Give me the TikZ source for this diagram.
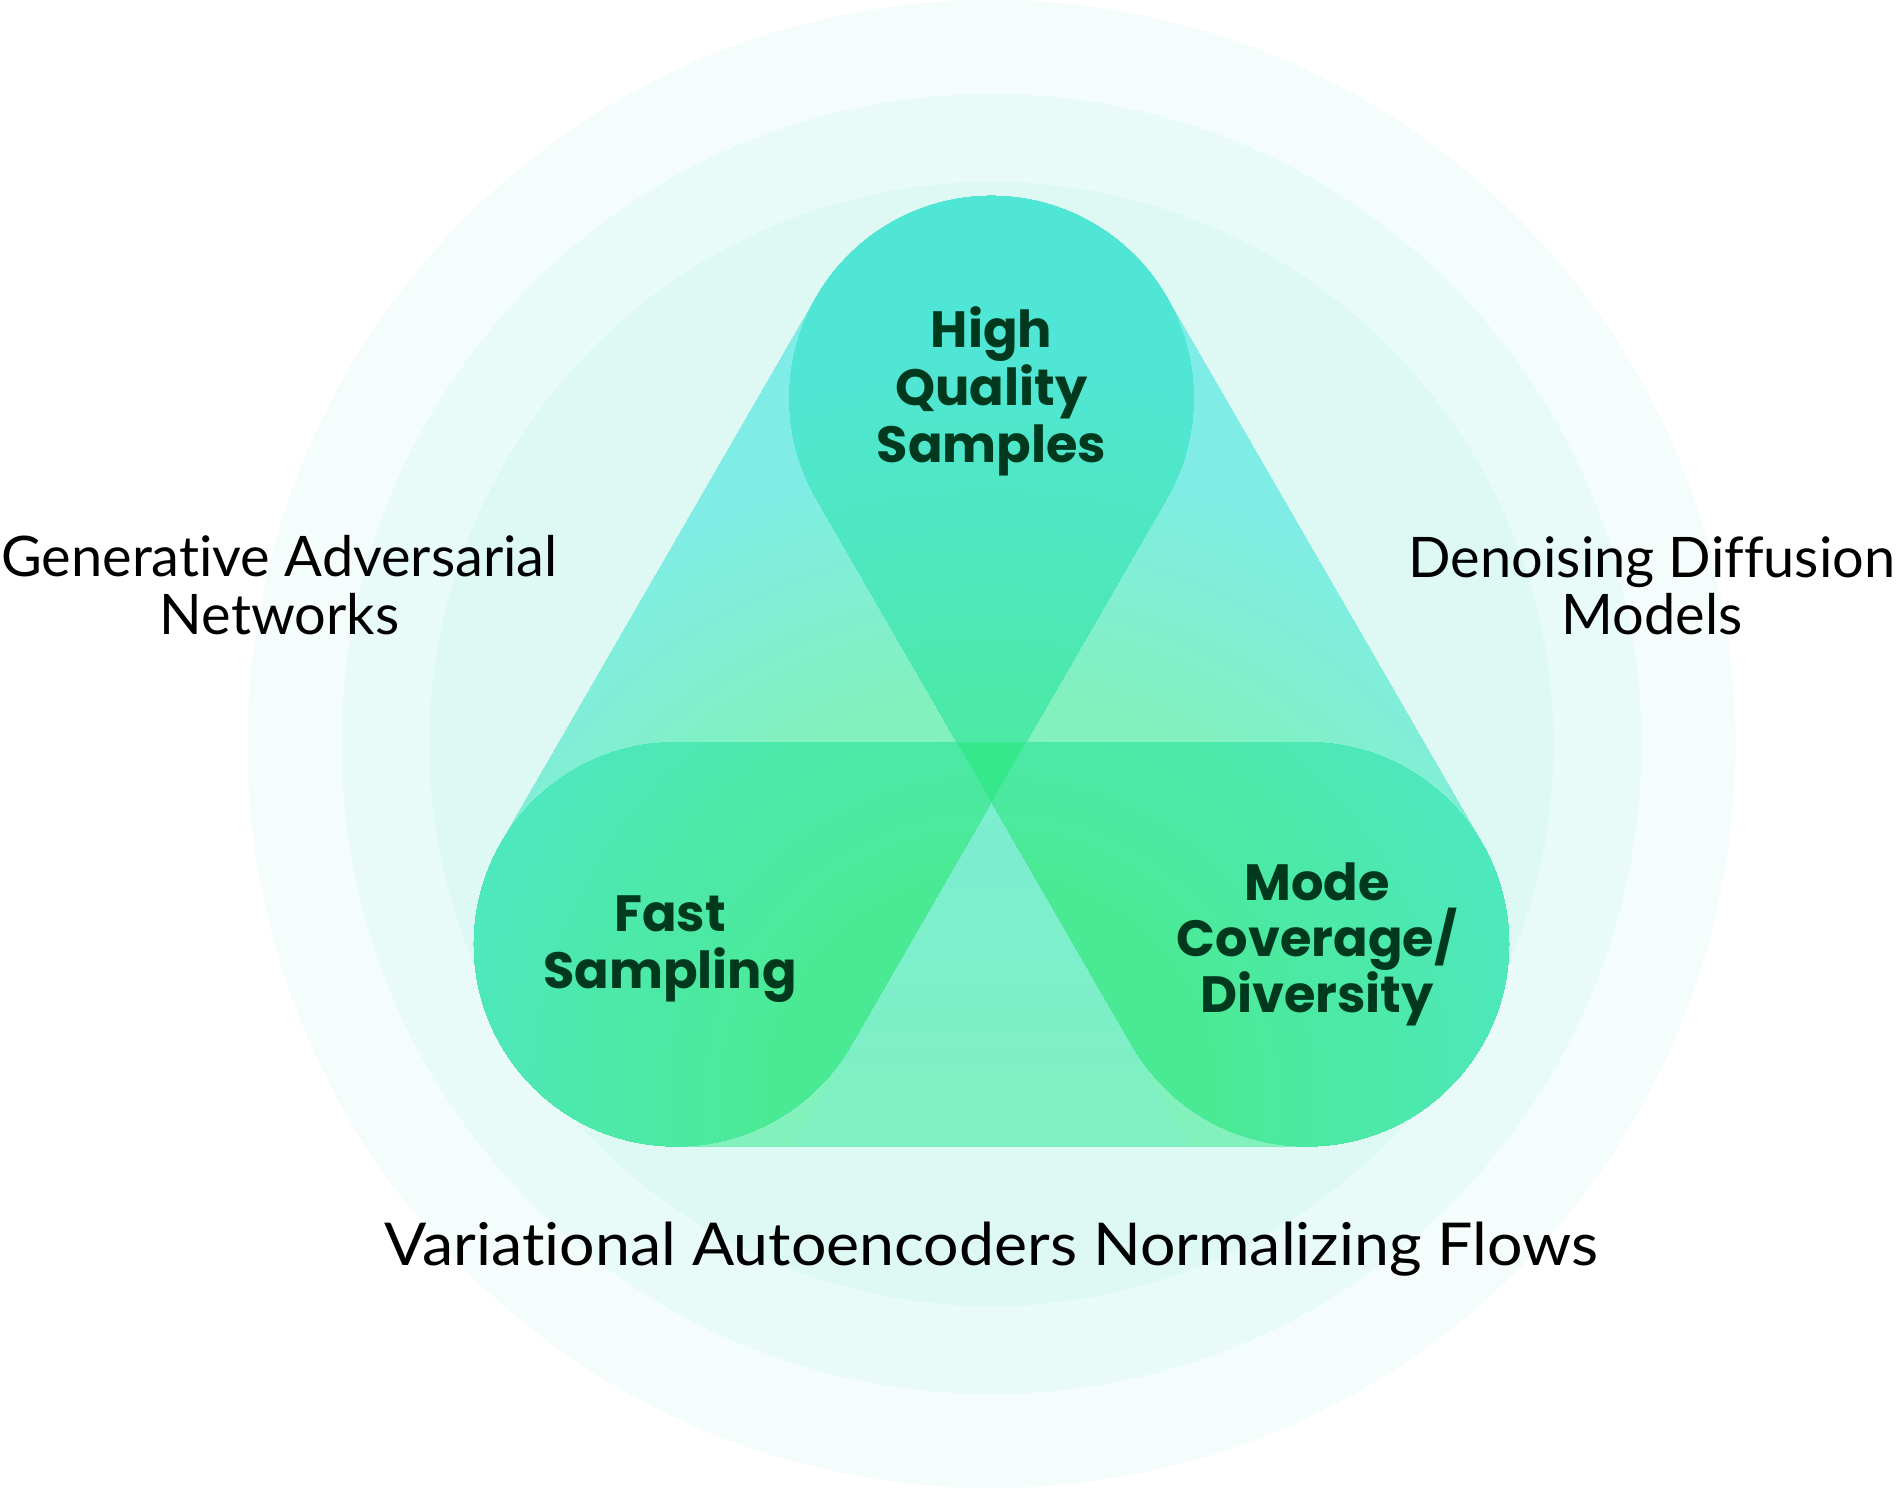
\documentclass[tikz,border=0pt]{standalone}
\usepackage{fontspec}
\setmainfont{Lato}[Ligatures=NoCommon]
\newfontfamily\labelfont{Poppins}
\usetikzlibrary{calc}

% palette
\definecolor{ringA}{HTML}{F5FDFC}
\definecolor{ringB}{HTML}{E8FBF8}
\definecolor{ringC}{HTML}{DEF9F3}
\definecolor{hullCyan}{HTML}{7FEDE6}
\definecolor{hullGreen}{HTML}{82F1BC}
\definecolor{notchCyan}{HTML}{7AEDDA}
\definecolor{notchGreen}{HTML}{80F1B8}
\definecolor{tearCyan}{HTML}{50E6D6}
\definecolor{tearGreen}{HTML}{4AEA95}
\definecolor{coreGreen}{HTML}{35E88B}
\definecolor{labelInk}{HTML}{00391E}

\pgfdeclareverticalshading{notchfade}{100bp}{color(0bp)=(notchGreen); color(100bp)=(notchCyan)}

% radial glow around (G): colour #1 inside radius #3, colour #2 beyond radius #4
\newcommand\radialglow[4]{%
  \foreach \rad in {1000,990,...,10}{%
    \pgfmathtruncatemacro\mixp{max(0,min(100,(#4-\rad)/(#4-#3)*100))}%
    \fill[#1!\mixp!#2] (G) circle (\rad);
  }%
}

\tikzset{
  pill/.style={font=\labelfont\bfseries\fontsize{14.5}{17}\selectfont, text=labelInk, anchor=base, inner sep=0pt},
  caption/.style={font=\fontsize{15.9}{19}\selectfont, text=black, anchor=base, inner sep=0pt}
}

\begin{document}
\begin{tikzpicture}[x=0.01cm,y=0.01cm]
\useasboundingbox (0,0) rectangle (1896,1488);
\fill[white] (0,0) rectangle (1896,1488);

% concentric background rings
\coordinate (O) at (991.5,744);
\fill[ringA] (O) circle (744);
\fill[ringB] (O) circle (650);
\fill[ringC] (O) circle (562);

% circle centres of the three teardrops and the glow centre
\coordinate (T) at (991.5,1090);
\coordinate (L) at (676,543.7);
\coordinate (R) at (1307,543.7);
\coordinate (G) at (991.5,388);

% rounded triangle hull
\begin{scope}
\clip ($(T)+(150:202)$) -- ($(L)+(150:202)$) arc[start angle=150,end angle=270,radius=202]
  -- ($(R)+(270:202)$) arc[start angle=270,end angle=390,radius=202]
  -- ($(T)+(30:202)$) arc[start angle=30,end angle=150,radius=202] -- cycle;
\radialglow{hullGreen}{hullCyan}{400}{660}
\end{scope}

% notch between the two lower teardrops
\shade[shading=notchfade] (991.5,686) -- (792.7,341.7) -- (1190.3,341.7) -- cycle;

% top teardrop
\begin{scope}
\clip (991.5,686) -- ($(T)+(-30:202)$) arc[start angle=-30,end angle=210,radius=202] -- cycle;
\radialglow{tearGreen}{tearCyan}{230}{760}
\end{scope}

% lower left teardrop
\begin{scope}
\clip (1025.9,745.7) -- ($(L)+(90:202)$) arc[start angle=90,end angle=330,radius=202] -- cycle;
\radialglow{tearGreen}{tearCyan}{230}{760}
\end{scope}

% lower right teardrop
\begin{scope}
\clip (957.1,745.7) -- ($(R)+(90:202)$) arc[start angle=90,end angle=-150,radius=202] -- cycle;
\radialglow{tearGreen}{tearCyan}{230}{760}
\end{scope}

% where all three overlap
\fill[coreGreen] (957.1,745.7) -- (1025.9,745.7) -- (991.5,686) -- cycle;

% properties
\node[pill] (hq1) at (991.5,1140) {High};
\node[pill] (hq2) at (991.5,1082) {Quality};
\node[pill] (hq3) at (991.5,1025) {Samples};

\node[pill] (fs1) at (670,556) {Fast};
\node[pill] (fs2) at (670,499) {Sampling};

\node[pill] (md1) at (1317,587) {Mode};
\node[pill] (md2) at (1317,531) {Coverage/};
\node[pill] (md3) at (1317,475) {Diversity};

% model families
\node[caption] (gan1) at (279.5,911) {Generative Adversarial};
\node[caption] (gan2) at (279.5,853) {Networks};

\node[caption] (ddm1) at (1652,910) {Denoising Diffusion};
\node[caption] (ddm2) at (1652,853) {Models};

\node[caption, font=\fontsize{16.8}{19}\selectfont] (vae) at (991.5,222)
  {\scalebox{1.06}[1]{Variational Autoencoders Normalizing Flows}};
\end{tikzpicture}
\end{document}
